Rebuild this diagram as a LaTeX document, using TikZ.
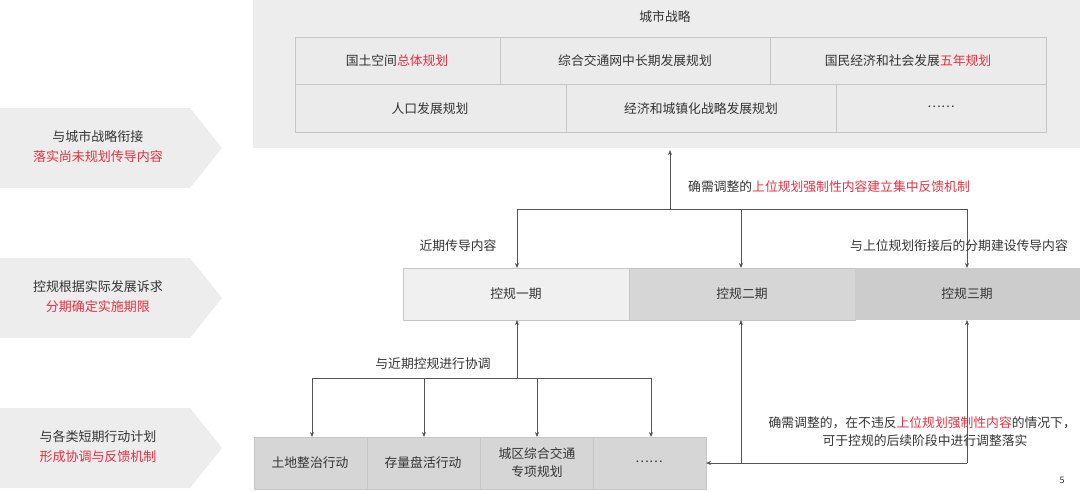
\documentclass[tikz,border=0pt]{standalone}
\usepackage{fontspec}
\usetikzlibrary{arrows.meta}
\setmainfont{Noto Sans CJK SC}
\definecolor{rd}{HTML}{E63040}
\definecolor{tx}{HTML}{333333}
\definecolor{ln}{HTML}{555555}
\begin{document}
\begin{tikzpicture}[x=1pt,y=-1pt,
  every node/.style={font=\fontsize{12.8}{18}\selectfont,text=tx,align=center,inner sep=1pt},
  cell/.style={draw=gray!45,fill=black!8,line width=0.6pt},
  conn/.style={draw=ln,line width=0.7pt},
  arr/.style={conn,-{Stealth[length=5pt,width=4pt]}},
  ban/.style={font=\fontsize{13}{20}\selectfont}]
\useasboundingbox (0,0) rectangle (1080,491);
% left banners
\foreach \y in {108,258,408}{
  \fill[black!7] (0,\y) -- (190,\y) -- (222,\y+40) -- (190,\y+80) -- (0,\y+80) -- cycle;
}
\node[ban] (t1) at (98,147) {与城市战略衔接\\\textcolor{rd}{落实尚未规划传导内容}};
\node[ban] (t2) at (98,297) {控规根据实际发展诉求\\\textcolor{rd}{分期确定实施期限}};
\node[ban] (t3) at (98,447) {与各类短期行动计划\\\textcolor{rd}{形成协调与反馈机制}};
% top panel
\fill[black!7] (253,0) rectangle (1080,148);
\node (title) at (665,17) {城市战略};
\draw[cell] (295,37) rectangle (500,84); \node at (397,61) {国土空间\textcolor{rd}{总体规划}};
\draw[cell] (500,37) rectangle (770,84); \node at (635,61) {综合交通网中长期发展规划};
\draw[cell] (770,37) rectangle (1046,84); \node at (908,61) {国民经济和社会发展\textcolor{rd}{五年规划}};
\draw[cell] (295,84) rectangle (566,132); \node at (430,109) {人口发展规划};
\draw[cell] (566,84) rectangle (836,132); \node at (701,109) {经济和城镇化战略发展规划};
\draw[cell] (836,84) rectangle (1046,132); \node at (941,107) {……};
\coordinate (top) at (670,150);
% phases
\draw[cell,fill=black!6] (403,268) rectangle (629,320); \node (p1) at (516,294) {控规一期};
\draw[cell,fill=black!16] (629,268) rectangle (855,320); \node (p2) at (742,294) {控规二期};
\draw[cell,fill=black!20,draw=none] (855,268) rectangle (1080,320); \node (p3) at (967,294) {控规三期};
\coordinate (h0) at (670,209);
\draw[arr] (h0) -- (top);
\draw[conn] (517,209) -- (967,209);
\draw[arr] (517,209) -- (517,268);
\draw[arr] (741,209) -- (741,268);
\draw[arr] (967,209) -- (967,268);
\node[anchor=west] at (687,187) {确需调整的\textcolor{rd}{上位规划强制性内容建立集中反馈机制}};
\node at (458,246) {近期传导内容};
\node[anchor=east] at (1069,246) {与上位规划衔接后的分期建设传导内容};
% actions
\draw[cell,fill=black!16] (254,437) rectangle (367,489); \node (a1) at (310,463) {土地整治行动};
\draw[cell,fill=black!16] (367,437) rectangle (480,489); \node (a2) at (423,463) {存量盘活行动};
\draw[cell,fill=black!16] (480,437) rectangle (593,489); \node (a3) at (537,463) {城区综合交通\\专项规划};
\draw[cell,fill=black!16] (593,437) rectangle (706,489); \node (a4) at (649,462) {……};
\draw[arr] (517,378) -- (517,320);
\node at (433,364) {与近期控规进行协调};
\draw[conn] (312,378) -- (651,378);
\foreach \x in {312,424,537,651}{\draw[arr] (\x,378) -- (\x,437);}
\draw[arr] (741,463) -- (741,320);
\draw[arr] (967,463) -- (967,320);
\draw[arr] (967,463) -- (706,463);
\node[anchor=east] at (1077,423) {确需调整的，在不违反\textcolor{rd}{上位规划强制性内容}的情况下，};
\node at (925,441) {可于控规的后续阶段中进行调整落实};
\node at (1062,480) {\fontsize{9}{10}\selectfont 5};
\end{tikzpicture}
\end{document}
